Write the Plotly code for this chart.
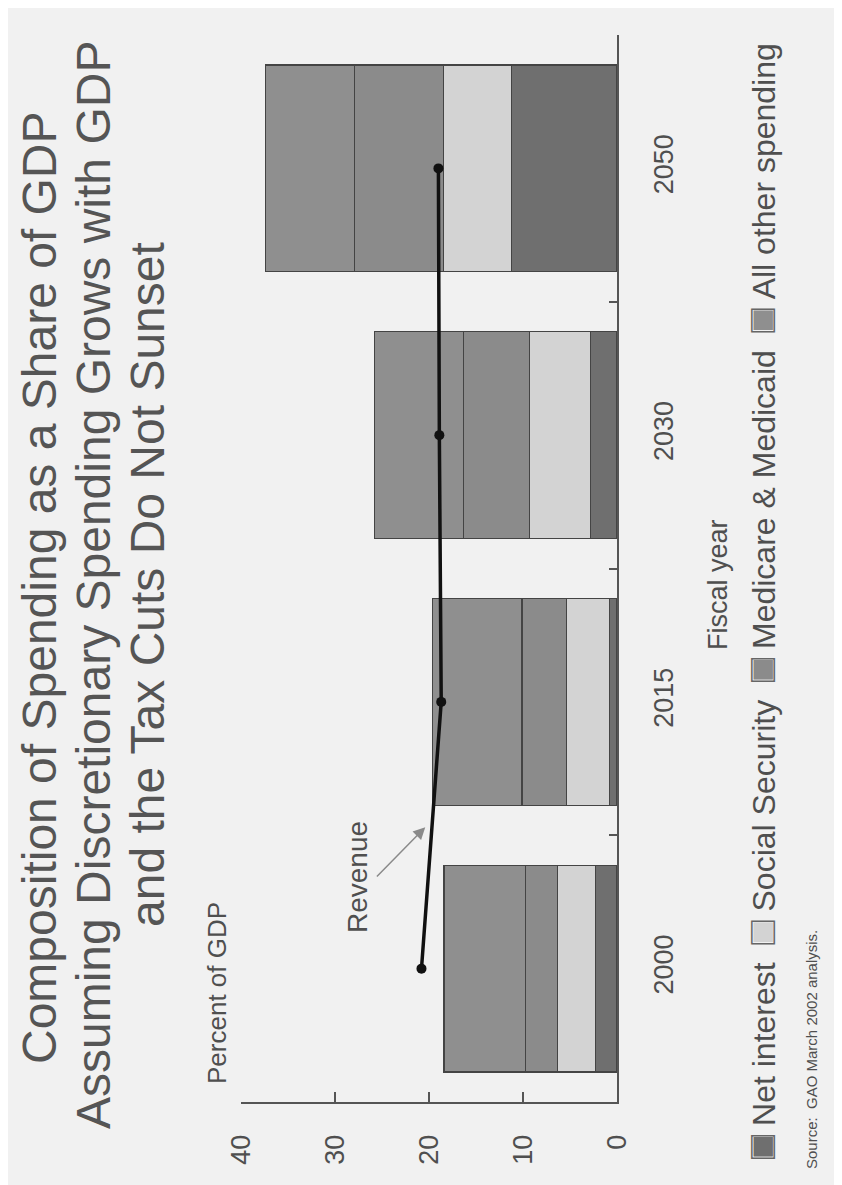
import plotly.graph_objects as go

# ---- data (percent of GDP) ----
years = ["2000", "2015", "2030", "2050"]
net_interest = [2.3, 0.8, 2.8, 11.2]
social_security = [4.0, 4.6, 6.5, 7.3]
medicare_medicaid = [3.4, 4.7, 7.0, 9.4]
all_other = [8.7, 9.5, 9.5, 9.5]
revenue = [20.8, 18.7, 18.9, 19.0]

series_names = ["Net interest", "Social Security", "Medicare & Medicaid", "All other spending"]
series_values = [net_interest, social_security, medicare_medicaid, all_other]
series_colors = ["#6f6f6f", "#d3d3d3", "#8b8b8b", "#8f8f8f"]

value_ticks = [0, 10, 20, 30, 40]

title_lines = [
    "Composition of Spending as a Share of GDP",
    "Assuming Discretionary Spending Grows with GDP",
    "and the Tax Cuts Do Not Sunset",
]

# page body has an 8px margin; work in reference pixels and shift
OFF = 8
W, H = 842 - OFF, 1185 - OFF
L, R, T, B = 241 - OFF, 617 - OFF, 35 - OFF, 1102 - OFF
FONT = "Liberation Sans, Arial, sans-serif"
TXT = "#4f4f4f"
BG = "#f1f1f1"
CLEAR = "rgba(0,0,0,0)"


def px(x):
    return (x - OFF - L) / (R - L)


def py(y):
    return (B - (y - OFF)) / (B - T)


fig = go.Figure()

for name, vals, col in zip(series_names, series_values, series_colors):
    fig.add_trace(go.Bar(
        y=years, x=vals, orientation="h", name=name,
        marker=dict(color=col, line=dict(color="#444444", width=1.2)),
        showlegend=False,
    ))

fig.add_trace(go.Scatter(
    y=years, x=revenue, mode="lines+markers", name="Revenue",
    line=dict(color="#111111", width=3.5),
    marker=dict(color="#111111", size=10),
    showlegend=False,
))

annotations = []
title_pos = [(39, 588), (94, 585), (148, 585)]
for line, (x, y) in zip(title_lines, title_pos):
    annotations.append(dict(
        text=line, x=px(x), y=py(y), xref="paper", yref="paper",
        showarrow=False, textangle=-90, xanchor="center", yanchor="middle",
        font=dict(family=FONT, size=48, color="#555555"),
    ))

annotations.append(dict(
    text="Percent of GDP", x=px(217), y=py(993), xref="paper", yref="paper",
    showarrow=False, textangle=-90, xanchor="center", yanchor="middle",
    font=dict(family=FONT, size=26, color=TXT),
))

annotations.append(dict(
    text="Revenue", x=px(357), y=py(877), xref="paper", yref="paper",
    showarrow=False, textangle=-90, xanchor="center", yanchor="middle",
    font=dict(family=FONT, size=28, color=TXT),
))
# arrow pointing at revenue line
annotations.append(dict(
    text="", x=20.4, y=0.53, xref="x", yref="y",
    ax=25.7, ay=0.34, axref="x", ayref="y",
    showarrow=True, arrowhead=2, arrowsize=1.6, arrowwidth=1.5, arrowcolor="#8a8a8a",
))

annotations.append(dict(
    text="Fiscal year", x=px(718), y=py(585), xref="paper", yref="paper",
    showarrow=False, textangle=-90, xanchor="center", yanchor="middle",
    font=dict(family=FONT, size=27, color=TXT),
))


def legend_string(mark_colors, mark, text_color):
    gap = "\u00a0\u00a0"
    return gap.join(
        f"<span style='color:{mc};font-size:40px'>{mark}</span>"
        f"<span style='color:{text_color}'>\u00a0{n}</span>"
        for n, mc in zip(series_names, mark_colors)
    )


# legend: filled squares + text, then outline squares overlaid
fill_layer = legend_string(series_colors, "■", TXT)
outline_layer = legend_string(["#666666"] * len(series_names), "□", CLEAR)
for txt in (fill_layer, outline_layer):
    annotations.append(dict(
        text=txt, x=px(761), y=py(601), xref="paper", yref="paper",
        showarrow=False, textangle=-90, xanchor="center", yanchor="middle",
        font=dict(family=FONT, size=32, color=TXT),
    ))

annotations.append(dict(
    text="Source:\u00a0\u00a0GAO March 2002 analysis.", x=px(811), y=py(1050),
    xref="paper", yref="paper",
    showarrow=False, textangle=-90, xanchor="center", yanchor="middle",
    font=dict(family=FONT, size=15, color=TXT),
))

fig.update_layout(
    width=W, height=H,
    margin=dict(l=L, r=W - R, t=T, b=H - B, autoexpand=False),
    paper_bgcolor=BG, plot_bgcolor=BG,
    barmode="stack", bargap=0.225,
    annotations=annotations,
    font=dict(family=FONT, color=TXT),
)

fig.update_xaxes(
    range=[40, 0], tickvals=value_ticks, ticktext=[str(v) for v in value_ticks],
    tickangle=-90, ticks="inside", ticklen=10, tickwidth=2, tickcolor="#555555",
    showline=True, linecolor="#555555", linewidth=2,
    showgrid=False, zeroline=False,
    tickfont=dict(family=FONT, size=27, color=TXT),
    ticklabelstandoff=20,
)

fig.update_yaxes(
    type="category", categoryorder="array", categoryarray=years,
    range=[-0.5, 3.5], side="right",
    tickangle=-90, ticks="inside", ticklen=8, tickwidth=2, tickcolor="#555555",
    tickson="boundaries",
    showline=True, linecolor="#555555", linewidth=2,
    showgrid=False, zeroline=False,
    tickfont=dict(family=FONT, size=27, color=TXT),
    ticklabelstandoff=22,
)

fig.write_html("out.html")
